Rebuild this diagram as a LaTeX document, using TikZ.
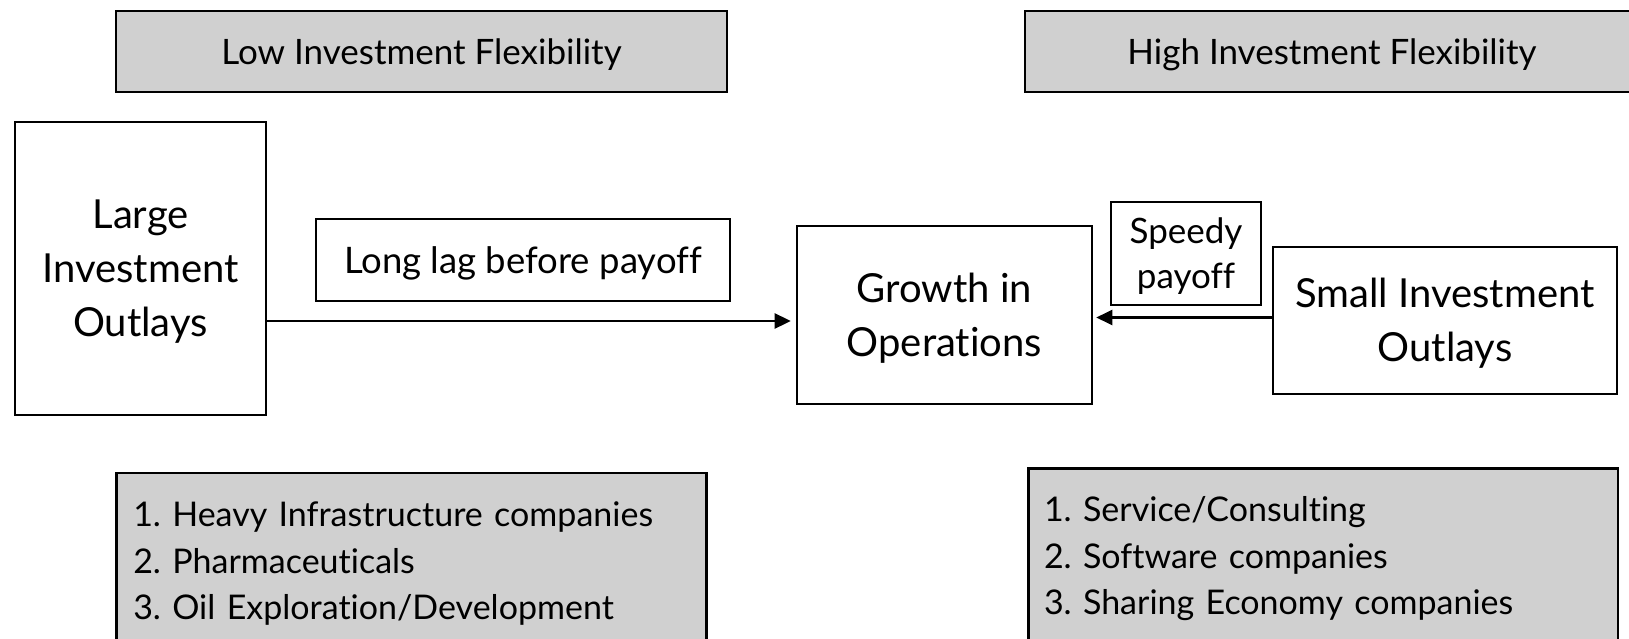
\documentclass[tikz,border=0pt]{standalone}
\usepackage{fontspec}
\setmainfont{Lato}[Ligatures={NoCommon}]
\usetikzlibrary{arrows.meta}
\definecolor{panelgrey}{RGB}{208,208,208}
\frenchspacing
\begin{document}
\begin{tikzpicture}[x=1pt,y=-1pt,
  outline/.style={draw=black, line width=2.6pt, inner sep=0pt},
  band/.style={outline, fill=panelgrey},
  % text boxes run from the cap line of the first row to the baseline of the last
  smalltxt/.style={font=\fontsize{35}{45}\selectfont, text height=25.1pt, text depth=0pt},
  midtxt/.style={font=\fontsize{36.5}{48}\selectfont, text height=26.2pt, text depth=0pt},
  bigtxt/.style={font=\fontsize{40}{54}\selectfont, align=center, text depth=0pt},
  listtxt/.style={font=\fontsize{34}{46.5}\selectfont, align=left, text height=24.4pt, text depth=93pt},
  arr/.style={-{Triangle[length=16pt,width=15pt]}, line width=2.6pt}]
\useasboundingbox (0,0) rectangle (1629,639);
\clip (0,0) rectangle (1629,639);

% header bands
\node[band, smalltxt, minimum width=611pt, minimum height=81pt] (lowflex) at (421.5,51.5) {Low Investment Flexibility};
\node[band, smalltxt, minimum width=614pt, minimum height=81pt] (highflex) at (1332,51.5) {High Investment Flexibility};

% main flow boxes
\node[outline, bigtxt, text height=136.7pt, minimum width=251pt, minimum height=293pt] (large) at (140.5,268.5) {Large\\Investment\\Outlays};
\node[outline, midtxt, minimum width=414pt, minimum height=82pt] (lag) at (523,260) {Long lag before payoff};
\node[outline, bigtxt, text height=82.7pt, minimum width=295pt, minimum height=178pt] (growth) at (944.5,315) {Growth in\\Operations};
\node[outline, smalltxt, align=center, text height=70.1pt, minimum width=150pt, minimum height=103pt] (speedy) at (1186,253.5) {Speedy\\payoff};
\node[outline, bigtxt, text height=82.7pt, minimum width=344pt, minimum height=147pt] (small) at (1445,320.5) {Small Investment\\Outlays};

% connectors
\draw[arr, shorten >=5pt] ([yshift=-52.5pt]large.east) -- ([yshift=-52.5pt]large.east -| growth.west);
\draw[arr, shorten >=3pt] ([yshift=3pt]small.west) -- ([yshift=3pt]small.west -| growth.east);

% example lists
\node[band, listtxt, inner xsep=17pt, text width=556pt, minimum height=176pt] (leftlist) at (411.25,561)
  {1. Heavy Infrastructure companies\\2. Pharmaceuticals\\3. Oil Exploration/Development};
\node[band, listtxt, inner xsep=15.5pt, text width=558.5pt, minimum height=174.8pt] (rightlist) at (1323.25,556)
  {1. Service/Consulting\\2. Software companies\\3. Sharing Economy companies};
\end{tikzpicture}
\end{document}
